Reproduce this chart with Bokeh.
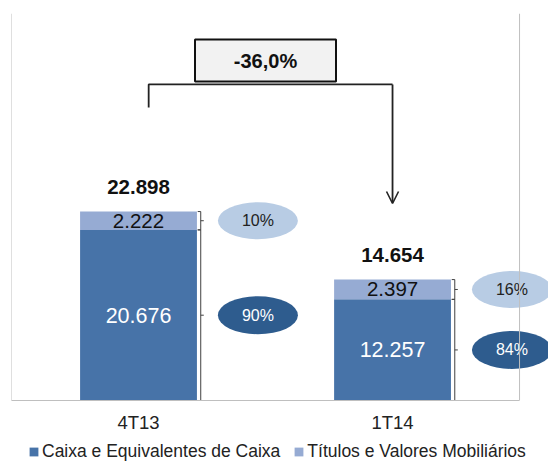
from bokeh.plotting import figure
from bokeh.layouts import column
from bokeh.models import (Range1d, FixedTicker, Span, Legend, LegendItem,
                          ColumnDataSource, Arrow, OpenHead)
from bokeh.core.properties import value
from bokeh.embed import file_html
from bokeh.resources import INLINE

# ---- data ----
periods = ["4T13", "1T14"]
caixa = [20676, 12257]          # Caixa e Equivalentes de Caixa
titulos = [2222, 2397]          # Títulos e Valores Mobiliários
series_names = ["Caixa e Equivalentes de Caixa", "Títulos e Valores Mobiliários"]

FONT = value("Liberation Sans")
C_DARK = "#4773a8"
C_LIGHT = "#96abd3"
E_DARK = "#2e5c8e"
E_LIGHT = "#b8cce4"


def br(v):
    return f"{v:,}".replace(",", ".")


idx = list(range(len(periods)))
totals = [a + b for a, b in zip(caixa, titulos)]

p = figure(width=548, height=442, output_backend="svg", toolbar_location=None,
           x_range=Range1d(-0.5, 1.614), y_range=Range1d(0, 46900),
           y_axis_location=None, min_border_left=11, min_border_right=0,
           min_border_top=13, min_border_bottom=42)
p.outline_line_color = None
p.xgrid.visible = False
p.ygrid.visible = False
p.background_fill_color = "white"

src = ColumnDataSource(dict(x=idx, caixa=caixa, titulos=titulos))
rs = p.vbar_stack(["caixa", "titulos"], x="x", width=0.46, source=src,
                  color=[C_DARK, C_LIGHT], line_color=None)

# axis
ax = p.xaxis[0]
ax.ticker = FixedTicker(ticks=idx)
ax.major_label_overrides = {i: periods[i] for i in idx}
ax.bounds = (-0.5, 1.5)
ax.axis_line_color = "#bfbfbf"
ax.major_tick_in = 0
ax.major_tick_out = 0
ax.minor_tick_in = 0
ax.minor_tick_out = 0
ax.major_label_standoff = 11
ax.major_label_text_font = "Liberation Sans"
ax.major_label_text_font_size = "18.5px"
ax.major_label_text_color = "#222222"

p.add_layout(Span(location=-0.5, dimension="height", line_color="#bfbfbf", line_width=1))
p.add_layout(Span(location=1.5, dimension="height", line_color="#bfbfbf", line_width=1))

# segment labels
mid_c = [c / 2 for c in caixa]
mid_t = [c + t / 2 for c, t in zip(caixa, titulos)]
p.text(x=idx, y=mid_t, text=[br(v) for v in titulos], text_align="center",
       text_baseline="middle", text_font=FONT, text_font_size="20.5px", text_color="#111111")
p.text(x=idx, y=mid_c, text=[br(v) for v in caixa], text_align="center",
       text_baseline="middle", text_font=FONT, text_font_size="21.5px", text_color="white")
p.text(x=idx, y=totals, text=[br(v) for v in totals], text_align="center",
       text_baseline="middle", y_offset=-25, text_font=FONT, text_font_size="20.5px",
       text_font_style="bold", text_color="#111111")

# brackets
bx = [i + 0.245 for i in idx]
d = 0.012
x0s, y0s, x1s, y1s = [], [], [], []
for i in idx:
    for lo, hi in [(0, caixa[i]), (caixa[i], totals[i])]:
        m = (lo + hi) / 2
        xb = bx[i]
        x0s += [xb, xb - d, xb - d, xb]
        y0s += [lo, lo, hi, m]
        x1s += [xb, xb, xb, xb + d]
        y1s += [hi, lo, hi, m]
p.segment(x0=x0s, y0=y0s, x1=x1s, y1=y1s, line_color="#404040", line_width=1)

# percentage ellipses
ex = [i + 0.47 for i in idx]
pct_t = [f"{round(t / s * 100)}%" for t, s in zip(titulos, totals)]
pct_c = [f"{round(c / s * 100)}%" for c, s in zip(caixa, totals)]
p.ellipse(x=ex, y=mid_t, width=80, height=37, width_units="screen", height_units="screen",
          fill_color=E_LIGHT, line_color=None)
p.ellipse(x=ex, y=mid_c, width=80, height=38, width_units="screen", height_units="screen",
          fill_color=E_DARK, line_color=None)
p.text(x=ex, y=mid_t, text=pct_t, text_align="center", text_baseline="middle",
       text_font=FONT, text_font_size="16px", text_color="#222222")
p.text(x=ex, y=mid_c, text=pct_c, text_align="center", text_baseline="middle",
       text_font=FONT, text_font_size="16px", text_color="white")

# change arrow
change = (totals[1] / totals[0] - 1) * 100
chg_txt = f"{change:.1f}%".replace(".", ",")
arrow_top = 38300
left_drop = 35507
arrow_tip = 23873
x_left = idx[0] + 0.04
x_right = idx[1]
p.line(x=[x_left, x_left, x_right], y=[left_drop, arrow_top, arrow_top],
       line_color="#222222", line_width=1.8)
p.add_layout(Arrow(end=OpenHead(size=12, line_width=1.6, line_color="#222222"),
                   x_start=x_right, y_start=arrow_top, x_end=x_right, y_end=arrow_tip,
                   line_color="#222222", line_width=1.8))
box_x = (idx[0] + idx[1]) / 2
box_y = 41200
p.rect(x=[box_x], y=[box_y], width=141, height=42, width_units="screen",
       height_units="screen", fill_color="#f2f2f2", line_color="#111111", line_width=2)
p.text(x=[box_x], y=[box_y], text=[chg_txt], text_align="center", text_baseline="middle",
       text_font=FONT, text_font_size="20px", text_font_style="bold", text_color="#111111")

# legend strip (separate small figure below the chart)
p2 = figure(width=548, height=20, output_backend="svg", toolbar_location=None,
            x_axis_location=None, y_axis_location=None, min_border=0,
            x_range=Range1d(0, 1), y_range=Range1d(0, 1))
p2.outline_line_color = None
p2.xgrid.visible = False
p2.ygrid.visible = False
lr0 = p2.vbar(x=[10], top=[1], width=0.1, color=C_DARK, line_color=None)
lr1 = p2.vbar(x=[10], top=[1], width=0.1, color=C_LIGHT, line_color=None)
legend = Legend(items=[LegendItem(label=series_names[0], renderers=[lr0]),
                       LegendItem(label=series_names[1], renderers=[lr1])],
                orientation="horizontal", location=(17, 0),
                label_text_font="Liberation Sans", label_text_font_size="17.5px",
                label_text_color="#222222", glyph_width=11, glyph_height=11,
                spacing=13, label_standoff=3, padding=0, margin=0,
                border_line_color=None, background_fill_alpha=0)
p2.add_layout(legend)

open("out.html", "w").write(file_html(column(p, p2), INLINE))
